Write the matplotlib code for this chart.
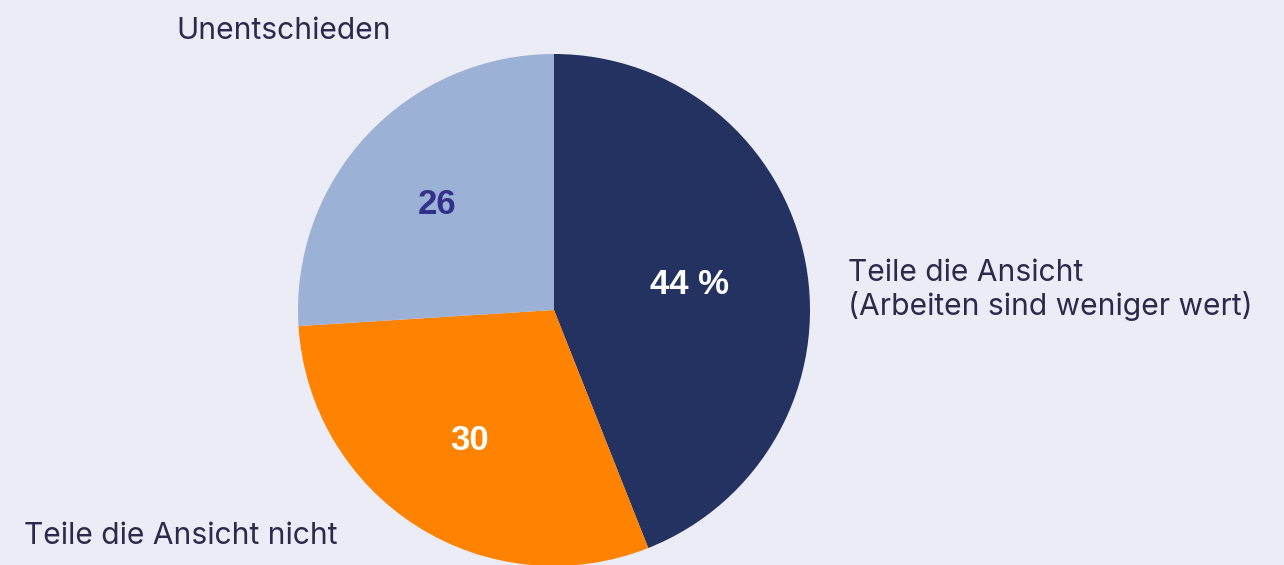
import matplotlib
matplotlib.use("Agg")
import matplotlib.pyplot as plt

categories = ["Teile die Ansicht\n(Arbeiten sind weniger wert)", "Teile die Ansicht nicht", "Unentschieden"]
values = [44, 30, 26]
value_labels = ["44 %", "30", "26"]
colors = ["#243262", "#FF8200", "#9BB1D6"]
value_colors = ["white", "white", "#33308A"]

W, H = 1284, 565
fig = plt.figure(figsize=(W/100, H/100), dpi=100)
fig.patch.set_facecolor("#ECECF7")
ax = fig.add_axes([0, 0, 1, 1])
ax.set_xlim(0, W)
ax.set_ylim(0, H)
ax.set_aspect("equal")
ax.axis("off")

cx, cy, r = 554, H - 310, 256
ax.pie(values, colors=colors, startangle=90, counterclock=False,
       center=(cx, cy), radius=r, frame=True,
       wedgeprops=dict(linewidth=0))
ax.set_xlim(0, W)
ax.set_ylim(0, H)
ax.axis("off")

val_pos = [(689, 285), (470, 441), (437, 205)]
for lab, (x, y), c in zip(value_labels, val_pos, value_colors):
    ax.text(x, H - y, lab, ha="center", va="center", color=c,
            fontsize=25, fontweight="bold", family="Liberation Sans")

txt = "#2B2A4C"
fs = 21.6
ax.text(848, H - 290, categories[0], ha="left", va="center", color=txt,
        fontsize=fs, family="Inter", linespacing=1.2)
ax.text(24, H - 536, categories[1], ha="left", va="center", color=txt,
        fontsize=fs, family="Inter")
ax.text(176, H - 31, categories[2], ha="left", va="center", color=txt,
        fontsize=fs, family="Inter")

fig.savefig("out.png", dpi=100, facecolor=fig.get_facecolor())
